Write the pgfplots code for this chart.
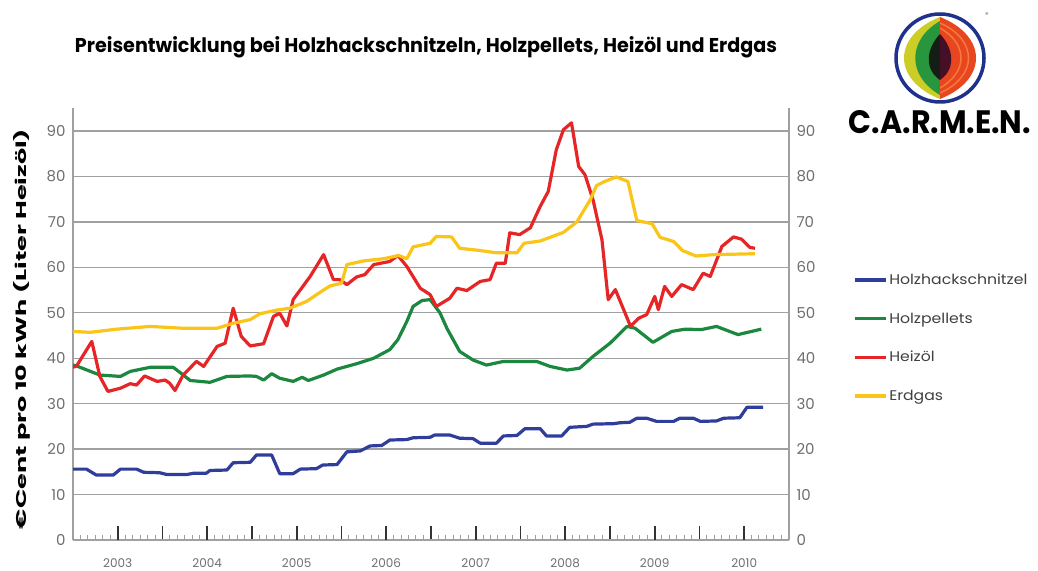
\documentclass[border=0pt]{standalone}
\usepackage{pgfplots}
\pgfplotsset{compat=1.18}
\usepackage{fontspec}
\setmainfont{Poppins}
\usepackage{graphicx}
\definecolor{cblue}{RGB}{48,62,155}
\definecolor{cgreen}{RGB}{28,135,62}
\definecolor{cred}{RGB}{230,38,38}
\definecolor{cyellow}{RGB}{250,196,24}
\definecolor{tickgray}{RGB}{110,110,110}
\definecolor{gridgray}{RGB}{160,160,160}
\begin{document}
\begin{tikzpicture}
\useasboundingbox (0,0) rectangle (1038bp,571bp);
% title
\node at (426bp,524bp) {\resizebox{702bp}{16bp}{\bfseries Preisentwicklung bei Holzhackschnitzeln, Holzpellets, Heizöl und Erdgas}};
% y label
\node[rotate=90] at (22bp,242bp) {\resizebox{400bp}{13bp}{\bfseries €Cent pro 10 kWh (Liter Heizöl)}};
% logo
\begin{scope}[shift={(940bp,513bp)}]
  \fill[white] (0,0) circle (46bp);
  \begin{scope}
    \clip (-50bp,-50bp) rectangle (0,50bp);
    \fill[color={rgb,255:red,205;green,205;blue,40}] (0,41bp) .. controls (-48bp,22bp) and (-48bp,-22bp) .. (0,-41bp) -- cycle;
    \fill[color={rgb,255:red,40;green,150;blue,60}] (0,37bp) .. controls (-33bp,18bp) and (-33bp,-18bp) .. (0,-37bp) -- cycle;
    \fill[color={rgb,255:red,20;green,30;blue,20}] (0,24bp) .. controls (-15bp,8bp) and (-15bp,-12bp) .. (0,-22bp) -- cycle;
  \end{scope}
  \begin{scope}
    \clip (0,-50bp) rectangle (50bp,50bp);
    \fill[color={rgb,255:red,232;green,70;blue,30}] (0,41bp) .. controls (48bp,22bp) and (48bp,-22bp) .. (0,-41bp) -- cycle;
    \draw[color={rgb,255:red,245;green,120;blue,60},line width=1.5bp] (0,35bp) .. controls (38bp,18bp) and (38bp,-18bp) .. (0,-35bp);
    \draw[color={rgb,255:red,245;green,120;blue,60},line width=1.5bp] (0,30bp) .. controls (28bp,14bp) and (28bp,-14bp) .. (0,-30bp);
    \fill[color={rgb,255:red,70;green,15;blue,40}] (0,24bp) .. controls (15bp,8bp) and (15bp,-12bp) .. (0,-22bp) -- cycle;
  \end{scope}
  \draw[color={rgb,255:red,30;green,50;blue,140},line width=3.5bp] (0,0) circle (44bp);
  \node[font=\fontsize{7bp}{8bp}\selectfont, text=tickgray] at (47bp,43bp) {®};
\end{scope}
\node at (940bp,449bp) {\resizebox{182bp}{23bp}{\bfseries C.A.R.M.E.N.}};

\pgfplotsset{
  common/.style={
    at={(73bp,31bp)}, anchor=south west, scale only axis,
    width=716bp, height=431.7bp,
    xmin=2003, xmax=2011, ymin=0, ymax=95,
    ytick={0,10,...,90},
    ytick style={draw=none},
    yticklabel style={text=tickgray, font=\fontsize{15bp}{16bp}\selectfont},
    /pgf/number format/assume math mode=true,
    axis line style={draw=gridgray, line width=1.3bp},
  }
}
\begin{axis}[common,
  axis x line*=bottom, axis y line*=left,
  tick align=inside,
  xtick={2004,...,2010},
  xticklabels={,,,,,,},
  minor xtick={2003.08333,2003.16667,...,2010.95},
  major tick length=14bp, minor tick length=5bp,
  xtick style={draw=black!80, line width=1.6bp},
  minor x tick style={draw=gridgray, line width=1bp},
  extra x ticks={2003.5,2004.5,...,2010.5},
  extra x tick labels={2003,2004,2005,2006,2007,2008,2009,2010},
  extra x tick style={tick style={draw=none}, xticklabel style={text=tickgray, font=\fontsize{12bp}{13bp}\selectfont, inner sep=0pt, yshift=-18bp}},
  ymajorgrids, grid style={draw=gridgray, line width=1.3bp},
  yticklabel style={xshift=-4bp},
  legend style={at={(1.085,0.626)}, anchor=north west, draw=none, fill=none,
    font=\fontsize{14bp}{16bp}\selectfont, row sep=22.7bp, text=black!75},
  legend cell align=left,
  legend image code/.code={\draw[#1, line width=3.2bp] (0bp,0bp) -- (31bp,0bp);},
  every axis plot/.append style={line width=3.2bp, line join=round},
]
\addplot[cblue] coordinates {
(2003.00,15.6)(2003.15,15.6)(2003.26,14.3)(2003.45,14.3)(2003.53,15.6)(2003.71,15.6)
(2003.79,14.9)(2003.97,14.8)(2004.05,14.4)(2004.27,14.4)(2004.35,14.7)(2004.49,14.7)
(2004.53,15.3)(2004.72,15.4)(2004.79,17.0)(2004.98,17.1)(2005.05,18.7)(2005.22,18.7)
(2005.31,14.6)(2005.46,14.6)(2005.54,15.6)(2005.72,15.7)(2005.79,16.5)(2005.95,16.6)
(2006.06,19.4)(2006.21,19.6)(2006.32,20.7)(2006.45,20.8)(2006.54,22.0)(2006.73,22.1)
(2006.80,22.5)(2006.99,22.6)(2007.04,23.1)(2007.21,23.1)(2007.32,22.4)(2007.47,22.3)
(2007.55,21.3)(2007.73,21.3)(2007.81,22.9)(2007.96,23.0)(2008.05,24.5)(2008.22,24.5)
(2008.29,22.9)(2008.46,22.9)(2008.55,24.8)(2008.74,25.0)(2008.81,25.5)(2009.04,25.6)
(2009.11,25.8)(2009.22,25.9)(2009.30,26.8)(2009.41,26.8)(2009.52,26.1)(2009.71,26.1)
(2009.78,26.8)(2009.93,26.8)(2010.01,26.1)(2010.19,26.2)(2010.27,26.8)(2010.45,26.9)
(2010.53,29.2)(2010.71,29.2)
};
\addlegendentry{\scalebox{1.12}[1]{Holzhackschnitzel}}
\addplot[cgreen] coordinates {
(2003.00,38.5)(2003.04,38.3)(2003.30,36.3)(2003.53,36.0)(2003.64,37.1)(2003.86,38.0)
(2004.12,38.0)(2004.20,36.8)(2004.31,35.1)(2004.53,34.7)(2004.72,36.0)(2004.98,36.1)
(2005.05,36.0)(2005.13,35.2)(2005.22,36.6)(2005.31,35.6)(2005.46,34.9)(2005.56,35.8)
(2005.63,35.1)(2005.80,36.3)(2005.95,37.6)(2006.17,38.8)(2006.36,40.0)(2006.54,41.9)
(2006.63,44.1)(2006.73,48.1)(2006.80,51.4)(2006.90,52.7)(2006.99,52.9)(2007.10,50.0)
(2007.18,46.5)(2007.32,41.5)(2007.47,39.6)(2007.62,38.5)(2007.81,39.3)(2008.18,39.3)
(2008.33,38.2)(2008.52,37.4)(2008.66,37.8)(2008.81,40.4)(2009.00,43.3)(2009.19,47.0)
(2009.28,46.6)(2009.48,43.5)(2009.69,45.9)(2009.84,46.4)(2010.02,46.3)(2010.19,47.0)
(2010.43,45.2)(2010.69,46.4)
};
\addlegendentry{\scalebox{1.12}[1]{Holzpellets}}
\addplot[cred] coordinates {
(2003.00,38.0)(2003.04,38.3)(2003.21,43.7)(2003.30,36.0)(2003.39,32.7)(2003.53,33.4)
(2003.64,34.4)(2003.71,34.1)(2003.80,36.1)(2003.94,34.9)(2004.03,35.2)(2004.08,34.5)
(2004.14,32.9)(2004.23,36.3)(2004.38,39.3)(2004.46,38.2)(2004.61,42.6)(2004.70,43.3)
(2004.79,51.0)(2004.88,44.8)(2004.98,42.7)(2005.13,43.2)(2005.24,49.2)(2005.31,49.9)
(2005.39,47.1)(2005.46,52.9)(2005.65,58.0)(2005.80,62.8)(2005.91,57.3)(2005.98,57.3)
(2006.06,56.2)(2006.17,57.9)(2006.26,58.4)(2006.36,60.6)(2006.54,61.3)(2006.63,62.6)
(2006.73,60.2)(2006.88,55.4)(2006.99,54.0)(2007.06,51.4)(2007.21,53.2)(2007.29,55.4)
(2007.40,54.9)(2007.55,56.9)(2007.66,57.3)(2007.73,60.9)(2007.83,60.9)(2007.88,67.6)
(2007.99,67.2)(2008.11,68.7)(2008.22,73.4)(2008.31,76.7)(2008.40,85.9)(2008.48,90.3)
(2008.57,91.8)(2008.65,82.2)(2008.72,80.4)(2008.81,74.9)(2008.91,66.1)(2008.98,52.9)
(2009.06,55.1)(2009.23,47.0)(2009.32,48.8)(2009.41,49.6)(2009.50,53.6)(2009.54,50.7)
(2009.61,55.8)(2009.69,53.6)(2009.80,56.2)(2009.93,55.1)(2010.04,58.7)(2010.12,58.0)
(2010.25,64.6)(2010.38,66.7)(2010.47,66.2)(2010.56,64.4)(2010.62,64.2)
};
\addlegendentry{\scalebox{1.12}[1]{Heizöl}}
\addplot[cyellow] coordinates {
(2003.00,45.9)(2003.19,45.7)(2003.49,46.4)(2003.86,47.0)(2004.23,46.6)(2004.61,46.6)
(2004.79,47.7)(2004.98,48.5)(2005.09,49.8)(2005.28,50.6)(2005.42,51.0)(2005.61,52.5)
(2005.76,54.5)(2005.87,55.9)(2006.00,56.5)(2006.06,60.6)(2006.24,61.4)(2006.47,61.9)
(2006.64,62.6)(2006.73,61.9)(2006.80,64.5)(2006.99,65.3)(2007.06,66.8)(2007.23,66.7)
(2007.32,64.2)(2007.55,63.7)(2007.73,63.2)(2007.96,63.2)(2008.04,65.3)(2008.22,65.8)
(2008.33,66.6)(2008.48,67.7)(2008.63,70.0)(2008.78,74.9)(2008.85,78.0)(2008.94,78.9)
(2009.07,79.9)(2009.20,78.9)(2009.30,70.3)(2009.47,69.6)(2009.56,66.6)(2009.71,65.7)
(2009.81,63.7)(2009.96,62.5)(2010.16,62.8)(2010.62,63.0)
};
\addlegendentry{\scalebox{1.12}[1]{Erdgas}}
\end{axis}
\begin{axis}[common,
  axis y line*=right, axis x line=none,
  yticklabel style={xshift=4bp},
]
\addplot[draw=none] coordinates {(2003,0)};
\end{axis}
\end{tikzpicture}
\end{document}
